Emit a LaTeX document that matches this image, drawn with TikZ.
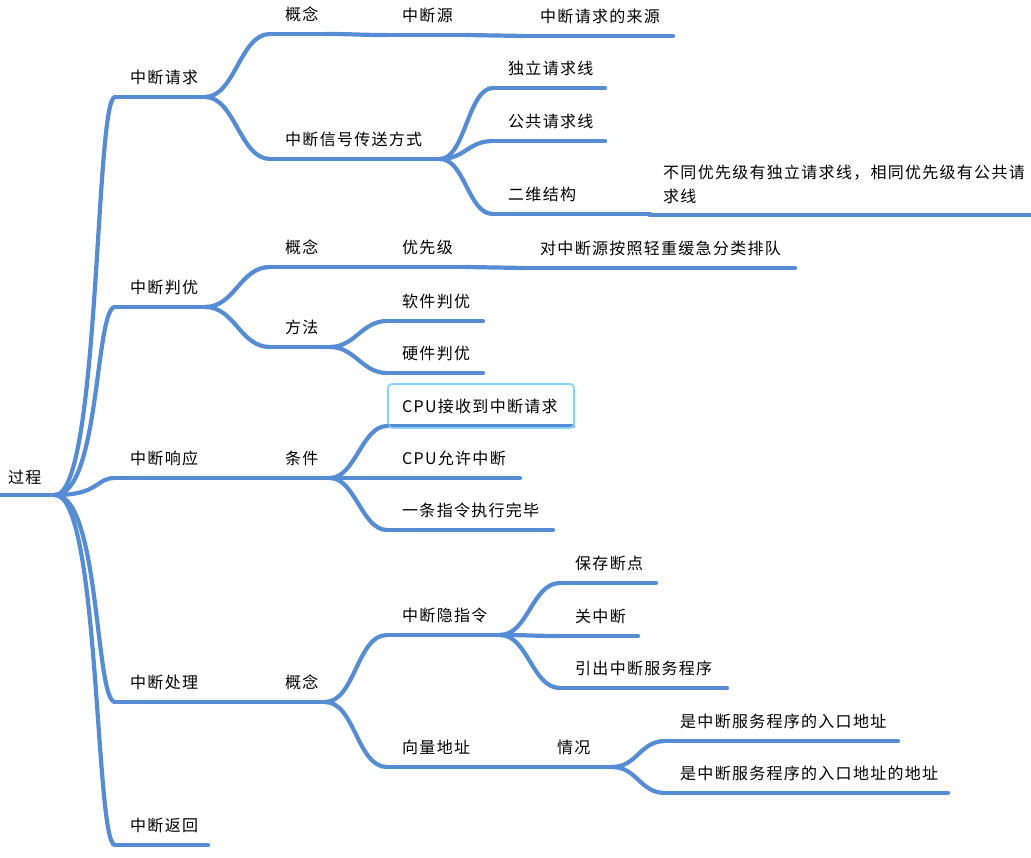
\documentclass[tikz,border=0pt]{standalone}
\usepackage{fontspec}
\newfontfamily\cjk{Noto Sans CJK SC}[LetterSpace=8]
\usetikzlibrary{calc}
\definecolor{mapblue}{RGB}{86,140,212}
\definecolor{focusblue}{RGB}{140,208,248}
\tikzset{
  bar/.style={draw=mapblue, line width=4.2pt, line cap=round},
  twig/.style={to path={.. controls +(#1,0) and +(-#1,0) .. (\tikztotarget)}},
  twig/.default=30,
  topic/.style={anchor=west, inner sep=0pt, font=\cjk\fontsize{16}{24}\selectfont},
  focus/.style={draw=focusblue, line width=1.8pt, rounded corners=4pt}
}
% name, left end, right end, y of the bar, text
\newcommand*{\mmtopic}[5]{%
  \coordinate (#1-a) at (#2,#4);
  \coordinate (#1-b) at (#3,#4);
  \node[topic] (#1) at ([xshift=15pt,yshift=20pt]#1-a) {#5};
  \draw[bar] (#1-a) -- (#1-b);
}

\begin{document}
\begin{tikzpicture}[x=1pt,y=-1pt]
\useasboundingbox (0,0) rectangle (1031,858);

% root
\coordinate (root-a) at (0,495);
\coordinate (root-b) at (55,495);
\node[topic] (root) at (8,477) {过程};
\draw[bar] (root-a) -- (root-b);

% first level
\mmtopic{req}{115}{205}{97}{中断请求}
\mmtopic{pri}{115}{205}{307}{中断判优}
\mmtopic{ack}{115}{205}{478}{中断响应}
\mmtopic{srv}{115}{205}{702}{中断处理}
\mmtopic{ret}{115}{208}{845}{中断返回}

% interrupt request
\mmtopic{reqidea}{270}{325}{34}{概念}
\mmtopic{source}{387}{465}{35}{中断源}
\mmtopic{origin}{525}{673}{36}{中断请求的来源}
\mmtopic{signal}{270}{440}{159}{中断信号传送方式}
\mmtopic{own}{493}{605}{88}{独立请求线}
\mmtopic{shared}{493}{605}{141}{公共请求线}
\mmtopic{twodim}{493}{650}{214}{二维结构}
\coordinate (mixed-a) at (650,215);
\coordinate (mixed-b) at (1031,215);
\node[topic, align=left] (mixed) at (663,184) {不同优先级有独立请求线，相同优先级有公共请\\求线};
\draw[bar] (mixed-a) -- (mixed-b);

% priority
\mmtopic{priidea}{270}{325}{267}{概念}
\mmtopic{level}{387}{465}{267}{优先级}
\mmtopic{queue}{525}{795}{268}{对中断源按照轻重缓急分类排队}
\mmtopic{way}{270}{330}{347}{方法}
\mmtopic{soft}{387}{483}{321}{软件判优}
\mmtopic{hard}{387}{483}{373}{硬件判优}

% response
\mmtopic{cond}{270}{330}{478}{条件}
\mmtopic{recv}{387}{573}{426}{CPU接收到中断请求}
\mmtopic{allow}{387}{520}{478}{CPU允许中断}
\mmtopic{done}{387}{553}{530}{一条指令执行完毕}
\draw[focus] ($(recv-a)+(1,-42)$) rectangle ($(recv-b)+(1,2)$);

% handling
\mmtopic{srvidea}{270}{325}{702}{概念}
\mmtopic{hidden}{387}{500}{635}{中断隐指令}
\mmtopic{save}{560}{656}{583}{保存断点}
\mmtopic{mask}{560}{638}{636}{关中断}
\mmtopic{isr}{560}{727}{688}{引出中断服务程序}
\mmtopic{vector}{387}{485}{767}{向量地址}
\mmtopic{case}{542}{612}{767}{情况}
\mmtopic{entry}{665}{898}{741}{是中断服务程序的入口地址}
\mmtopic{entryaddr}{665}{948}{793}{是中断服务程序的入口地址的地址}

% connectors
\foreach \t in {req,pri,ack,srv,ret}
  \draw[bar] (root-b) .. controls +(45,0) and +(-20,0) .. (\t-a);

\foreach \p/\c/\k in {req/reqidea/30, req/signal/30, reqidea/source/30,
    source/origin/30, signal/own/25, signal/shared/25, signal/twodim/25,
    twodim/mixed/0, pri/priidea/30, pri/way/30, priidea/level/30,
    level/queue/30, way/soft/25, way/hard/25, ack/cond/30, cond/recv/25,
    cond/allow/25, cond/done/25, srv/srvidea/30, srvidea/hidden/30,
    srvidea/vector/30, hidden/save/28, hidden/mask/28, hidden/isr/28,
    vector/case/30, case/entry/25, case/entryaddr/25}
  \draw[bar] (\p-b) to[twig=\k] (\c-a);

\end{tikzpicture}
\end{document}
